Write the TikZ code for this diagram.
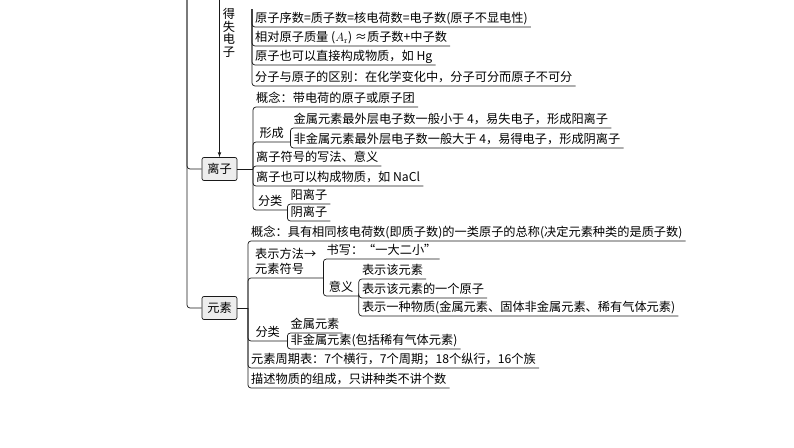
\documentclass[tikz,border=0pt]{standalone}
\usepackage{fontspec}
\newfontfamily\cjk{Noto Sans CJK SC}
\usetikzlibrary{arrows,positioning}

\begin{document}
\begin{tikzpicture}[
    x=1pt, y=-1pt,
    item/.style={
      anchor=south west, inner xsep=3pt, inner ysep=2pt,
      text depth=2pt, align=left, font=\cjk\fontsize{12.2}{15}\selectfont
    },
    topic/.style={
      draw=black!90, rounded corners=2pt, fill=black!7, line width=0.7pt,
      minimum width=35pt, minimum height=23pt, inner sep=1pt,
      font=\cjk\fontsize{12.2}{15}\selectfont
    },
    link/.style={draw=black!90, line width=0.7pt, rounded corners=3pt},
    >=latex
  ]
    \useasboundingbox (0,0) rectangle (794,447);

    % Topic boxes on the left
    \node[topic] (lizi)   at (219.5,169) {离子};
    \node[topic] (yuansu) at (219.5,308) {元素};

    % Trunk line and the arrow into the ion box
    \coordinate (root) at (187,0);
    \draw[link] (root) |- (lizi.west);
    \draw[link] (root) |- (yuansu.west);
    \coordinate (gain) at (lizi.north |- 0,0);
    \draw[link,->] (gain) -- (lizi.north);
    \node[inner sep=0pt, align=center, font=\cjk\fontsize{12.2}{12.5}\selectfont]
      (gainlabel) at (229,33) {得\\失\\电\\子};

    % Atom items (top)
    \coordinate (a-top) at (252,9);
    \node[item] (a1) at (252,27) {原子序数=质子数=核电荷数=电子数(原子不显电性)};
    \node[item] (a2) at (252,46) {相对原子质量 ($A_{\mathrm{r}}$) ≈质子数+中子数};
    \node[item] (a3) at (252,65) {原子也可以直接构成物质，如 Hg};
    \node[item] (a4) at (252,86) {分子与原子的区别：在化学变化中，分子可分而原子不可分};
    \foreach \n in {a1,a2,a3,a4}
      \draw[link] (a-top) |- (\n.south east);

    % Ion items
    \coordinate (b-j) at (253,169);
    \node[item] (b1) at (253,107) {概念：带电荷的原子或原子团};
    \node[item, minimum width=37pt] (b2) at (253,142) {形成};
    \node[item] (b2a) at (b2.south east |- 0,128) {金属元素最外层电子数一般小于 4，易失电子，形成阳离子};
    \node[item] (b2b) at (b2.south east |- 0,148) {非金属元素最外层电子数一般大于 4，易得电子，形成阴离子};
    \node[item] (b3) at (253,166) {离子符号的写法、意义};
    \node[item] (b4) at (253,186) {离子也可以构成物质，如 NaCl};
    \node[item, minimum width=34pt] (b5) at (253,210) {分类};
    \node[item] (b5a) at (b5.south east |- 0,204) {阳离子};
    \node[item] (b5b) at (b5.south east |- 0,221) {阴离子};

    \draw[link] (lizi.east) -- (b-j);
    \foreach \n in {b1,b2,b3,b4,b5}
      \draw[link] (b-j) |- (\n.south east);
    \foreach \n in {b2a,b2b}
      \draw[link] (b2.south east) |- (\n.south east);
    \foreach \n in {b5a,b5b}
      \draw[link] (b5.south east) |- (\n.south east);

    % Element items
    \coordinate (c-j) at (248,308);
    \node[item] (c1) at (248,241) {概念：具有相同核电荷数(即质子数)的一类原子的总称(决定元素种类的是质子数)};
    \node[item, minimum width=75pt] (c2) at (248,278) {表示方法→\\元素符号};
    \node[item] (c2a) at (c2.south east |- 0,259) {书写：“一大二小”};
    \node[item, minimum width=35pt] (c2b) at (c2.south east |- 0,296) {意义};
    \node[item] (c2b1) at (c2b.south east |- 0,279) {表示该元素};
    \node[item] (c2b2) at (c2b.south east |- 0,298) {表示该元素的一个原子};
    \node[item] (c2b3) at (c2b.south east |- 0,316) {表示一种物质(金属元素、固体非金属元素、稀有气体元素)};
    \node[item, minimum width=39pt] (c3) at (248,341) {分类};
    \node[item] (c3a) at (c3.south east |- 0,333) {金属元素};
    \node[item] (c3b) at (c3.south east |- 0,349) {非金属元素(包括稀有气体元素)};
    \node[item] (c4) at (248,368) {元素周期表：7个横行，7个周期；18个纵行，16个族};
    \node[item] (c5) at (248,388) {描述物质的组成，只讲种类不讲个数};

    \draw[link] (yuansu.east) -- (c-j);
    \foreach \n in {c1,c2,c3,c4,c5}
      \draw[link] (c-j) |- (\n.south east);
    \foreach \n in {c2a,c2b}
      \draw[link] (c2.south east) |- (\n.south east);
    \foreach \n in {c2b1,c2b2,c2b3}
      \draw[link] (c2b.south east) |- (\n.south east);
    \foreach \n in {c3a,c3b}
      \draw[link] (c3.south east) |- (\n.south east);

\end{tikzpicture}
\end{document}
